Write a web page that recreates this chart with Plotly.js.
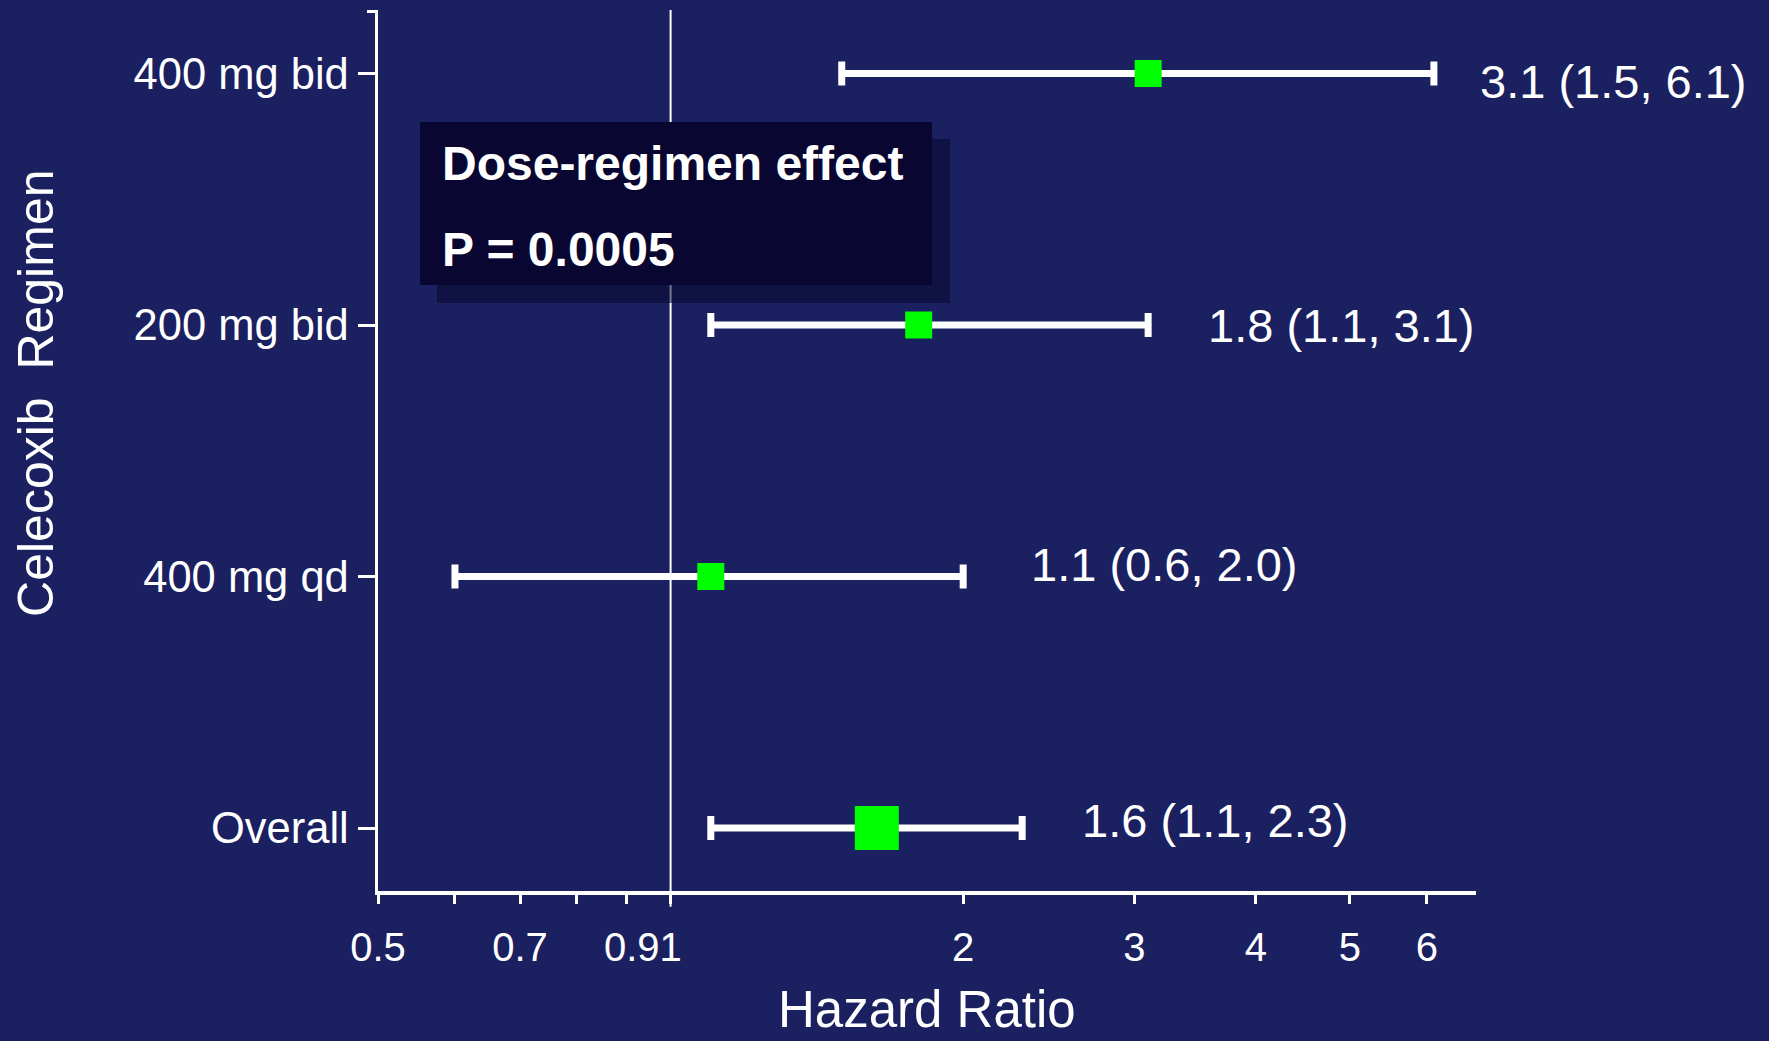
<!DOCTYPE html>
<html>
<head>
<meta charset="utf-8">
<script src="https://cdn.plot.ly/plotly-3.0.1.min.js"></script>
<style>
html,body{margin:0;padding:0;background:#1b2160;}
#chart{width:1769px;height:1041px;}
</style>
</head>
<body>
<div id="chart"></div>
<script>
// ---- data ----
const regimens = ["400 mg bid", "200 mg bid", "400 mg qd", "Overall"];
const rowPos   = [3, 2, 1, 0];
const hazard   = [3.1, 1.8, 1.1, 1.63];
const ciLower  = [1.5, 1.1, 0.6, 1.1];
const ciUpper  = [6.1, 3.1, 2.0, 2.3];
const xTickVals = [0.5, 0.6, 0.7, 0.8, 0.9, 1, 2, 3, 4, 5, 6];
const xTickText = ["0.5", "", "0.7", "", "", "0.91", "2", "3", "4", "5", "6"];
const refLine = 1;
const boxLines = ["Dose-regimen effect", "P = 0.0005"];
const xTitle = "Hazard Ratio";
const yTitle = "Celecoxib\u00a0 Regimen";

// ---- styling ----
const FONT = "Liberation Sans, Arial, sans-serif";
const markerSizes = [27, 27, 27, 44];
const labelShift = [[44, -8], [58, 0], [66, 12], [58, 8]];

const nbsp = "\u00a0";
const tickText = xTickText.map(t => t === "0.91" ? t + nbsp.repeat(5) : t);

const trace = {
  type: "scatter",
  mode: "markers",
  x: hazard,
  y: rowPos,
  opacity: 1,
  marker: {symbol: "square", color: "#00ff00", size: markerSizes, opacity: 1, line: {width: 0}},
  error_x: {
    type: "data", symmetric: false,
    array: hazard.map((h, i) => ciUpper[i] - h),
    arrayminus: hazard.map((h, i) => h - ciLower[i]),
    color: "#ffffff", thickness: 7, width: 12
  },
  hoverinfo: "skip",
  showlegend: false,
  cliponaxis: false
};

const annotations = hazard.map((h, i) => ({
  x: Math.log10(ciUpper[i]), y: rowPos[i], xref: "x", yref: "y",
  text: h.toFixed(1) + " (" + ciLower[i].toFixed(1) + ", " + ciUpper[i].toFixed(1) + ")",
  showarrow: false, xanchor: "left", yanchor: "middle",
  xshift: labelShift[i][0], yshift: labelShift[i][1],
  font: {family: FONT, size: 47, color: "#ffffff"}
}));

annotations.push({
  x: 0.0565, y: 0.8252, xref: "paper", yref: "paper",
  text: "<b>" + boxLines[0] + "</b>", showarrow: false, xanchor: "left", yanchor: "middle",
  font: {family: FONT, size: 48, color: "#ffffff"}
});
annotations.push({
  x: 0.0565, y: 0.7276, xref: "paper", yref: "paper",
  text: "<b>" + boxLines[1] + "</b>", showarrow: false, xanchor: "left", yanchor: "middle",
  font: {family: FONT, size: 48, color: "#ffffff"}
});
annotations.push({
  x: -0.3115, y: 0.5653, xref: "paper", yref: "paper",
  text: yTitle, showarrow: false, textangle: -90,
  xanchor: "center", yanchor: "middle",
  font: {family: FONT, size: 50, color: "#ffffff"}
});
annotations.push({
  x: 0.5, y: -0.1691, xref: "paper", yref: "paper",
  text: xTitle, showarrow: false,
  xanchor: "center", yanchor: "bottom",
  font: {family: FONT, size: 51, color: "#ffffff"}
});

const shapes = [
  {type: "line", xref: "x", yref: "paper", x0: refLine, x1: refLine, y0: -0.018, y1: 1,
   line: {color: "#ffffff", width: 2}, layer: "below"},
  {type: "rect", xref: "paper", yref: "paper", x0: 0.0537, x1: 0.5210, y0: 0.6674, y1: 0.8536,
   fillcolor: "rgba(8,8,45,0.55)", line: {width: 0}, layer: "above"},
  {type: "rect", xref: "paper", yref: "paper", x0: 0.0383, x1: 0.5046, y0: 0.6879, y1: 0.8729,
   fillcolor: "#090731", line: {width: 0}, layer: "above"}
];

const layout = {
  width: 1769, height: 1041,
  paper_bgcolor: "#1b2160", plot_bgcolor: "#1b2160",
  margin: {l: 378, r: 293, t: 10, b: 150, pad: 0},
  font: {family: FONT, color: "#ffffff"},
  xaxis: {
    type: "log",
    range: [Math.log10(0.5), Math.log10(6.74)],
    tickvals: xTickVals, ticktext: tickText,
    ticks: "outside", ticklen: 9, tickwidth: 3, tickcolor: "#ffffff",
    showline: true, linecolor: "#ffffff", linewidth: 4,
    showgrid: false, zeroline: false,
    tickfont: {family: FONT, size: 40, color: "#ffffff"},
    ticklabelstandoff: 9,
    fixedrange: true
  },
  yaxis: {
    range: [-0.2505, 3.2525],
    tickvals: rowPos, ticktext: regimens,
    ticks: "outside", ticklen: 17, tickwidth: 3, tickcolor: "#ffffff",
    showline: true, linecolor: "#ffffff", linewidth: 3.5,
    showgrid: false, zeroline: false,
    tickfont: {family: FONT, size: 43.5, color: "#ffffff"},
    minor: {tickvals: [3.248], ticks: "outside", ticklen: 8, tickwidth: 3, tickcolor: "#ffffff", showgrid: false},
    fixedrange: true
  },
  annotations: annotations,
  shapes: shapes
};

Plotly.newPlot("chart", [trace], layout, {displayModeBar: false, staticPlot: true});
</script>
</body>
</html>
